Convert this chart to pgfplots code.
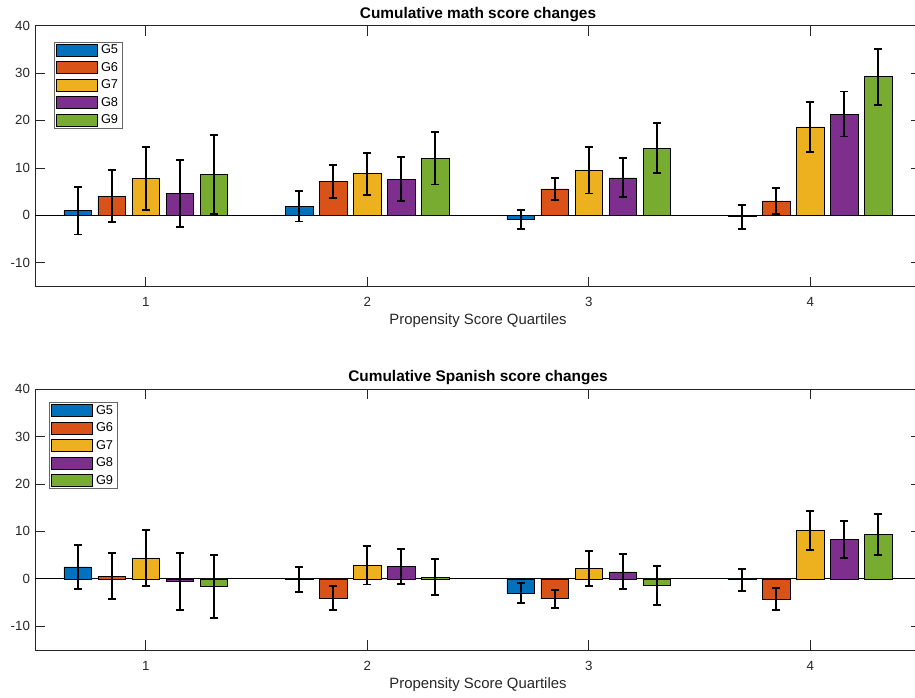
\documentclass[border=0pt]{standalone}
\usepackage{fontspec}
\setmainfont{Liberation Sans}
\usepackage{pgfplots}
\usepackage{pgfplotstable}
\pgfplotsset{compat=1.18}
\definecolor{c1}{RGB}{0,114,189}
\definecolor{c2}{RGB}{217,83,25}
\definecolor{c3}{RGB}{237,177,32}
\definecolor{c4}{RGB}{126,47,142}
\definecolor{c5}{RGB}{119,172,48}
\definecolor{axgray}{RGB}{38,38,38}

\pgfplotstableread{
q  g5    e5    g6    e6    g7    e7    g8    e8    g9    e9
1  1.00  5.05  4.00  5.50  7.75  6.60  4.60  7.00  8.65  8.35
2  1.90  3.20  7.10  3.50  8.75  4.45  7.65  4.55 12.00  5.50
3 -0.90  1.98  5.55  2.25  9.50  4.90  7.90  4.10 14.15  5.25
4 -0.30  2.50  3.05  2.80 18.65  5.25 21.35  4.75 29.20  5.90
}\mathdata
\pgfplotstableread{
q  g5    e5    g6    e6    g7    e7    g8    e8    g9    e9
1  2.50  4.70  0.55  4.85  4.40  5.90 -0.50  6.00 -1.65  6.65
2 -0.20  2.65 -4.00  2.50  2.90  4.10  2.60  3.70  0.37  3.75
3 -2.95  2.05 -4.20  1.90  2.20  3.75  1.47  3.70 -1.33  4.10
4 -0.20  2.30 -4.25  2.27 10.15  4.15  8.25  3.85  9.35  4.35
}\spandata

\pgfplotsset{
  mybar/.style={ybar, bar shift=0pt, bar width=0.124, fill=#1, draw=black, line width=0.6pt,
    error bars/.cd, y dir=both, y explicit,
    error bar style={line width=1.9pt, draw=black},
    error mark options={rotate=90, line width=1.9pt, draw=black, mark size=4pt}},
  panel/.style={
    scale only axis, width=886pt, height=261pt, anchor=south west,
    xmin=0.5, xmax=4.5, ymin=-15, ymax=40,
    xtick={1,2,3,4}, ytick={-10,0,10,20,30,40},
    tick align=inside, tick pos=both, major tick length=10pt,
    axis line style={draw=axgray, line width=0.7pt},
    every tick/.style={draw=axgray, line width=0.7pt},
    /pgf/number format/assume math mode=true,
    tick label style={font=\fontsize{13.3}{16}\selectfont, text=axgray},
    every x tick label/.append style={anchor=base, yshift=-20pt},
    every y tick label/.append style={anchor=east, xshift=-1.5pt},
    title style={at={(axis description cs:0.5,1)}, anchor=base, yshift=1.5pt,
      font=\fontsize{15.4}{18}\bfseries\selectfont, text=black},
    xlabel={Propensity Score Quartiles},
    xlabel style={at={(axis description cs:0.5,0)}, anchor=base, yshift=-38pt,
      font=\fontsize{14.9}{17}\selectfont, text=axgray},
    legend cell align=left,
    legend image code/.code={\draw[##1, draw=black, line width=0.6pt] (0pt,-6pt) rectangle (41pt,6pt);},
    legend style={anchor=north west, draw=axgray!70, line width=0.8pt, fill=white,
      font=\fontsize{12.8}{15}\selectfont, text=black,
      inner xsep=2pt, inner ysep=1pt, row sep=3pt,
      /tikz/every odd column/.style={column sep=1pt}},
  }
}

\begin{document}
\begin{tikzpicture}
\useasboundingbox (0pt,0pt) rectangle (915pt,-698pt);
\begin{axis}[panel, at={(35pt,-286.5pt)},
  title={Cumulative math score changes},
  legend style={at={(0,1)}, xshift=19pt, yshift=-16pt}]
\draw[black, line width=0.7pt] (axis cs:0.5,0) -- (axis cs:4.5,0);
\addplot[mybar=c1] table[x expr=\thisrow{q}-0.3077, y=g5, y error=e5] {\mathdata};
\addplot[mybar=c2] table[x expr=\thisrow{q}-0.1538, y=g6, y error=e6] {\mathdata};
\addplot[mybar=c3] table[x expr=\thisrow{q}, y=g7, y error=e7] {\mathdata};
\addplot[mybar=c4] table[x expr=\thisrow{q}+0.1538, y=g8, y error=e8] {\mathdata};
\addplot[mybar=c5] table[x expr=\thisrow{q}+0.3077, y=g9, y error=e9] {\mathdata};
\legend{G5,G6,G7,G8,G9}
\end{axis}
\begin{axis}[panel, at={(35pt,-650pt)},
  title={Cumulative Spanish score changes},
  legend style={at={(0,1)}, xshift=14pt, yshift=-13pt}]
\draw[black, line width=0.7pt] (axis cs:0.5,0) -- (axis cs:4.5,0);
\addplot[mybar=c1] table[x expr=\thisrow{q}-0.3077, y=g5, y error=e5] {\spandata};
\addplot[mybar=c2] table[x expr=\thisrow{q}-0.1538, y=g6, y error=e6] {\spandata};
\addplot[mybar=c3] table[x expr=\thisrow{q}, y=g7, y error=e7] {\spandata};
\addplot[mybar=c4] table[x expr=\thisrow{q}+0.1538, y=g8, y error=e8] {\spandata};
\addplot[mybar=c5] table[x expr=\thisrow{q}+0.3077, y=g9, y error=e9] {\spandata};
\legend{G5,G6,G7,G8,G9}
\end{axis}
\end{tikzpicture}
\end{document}
